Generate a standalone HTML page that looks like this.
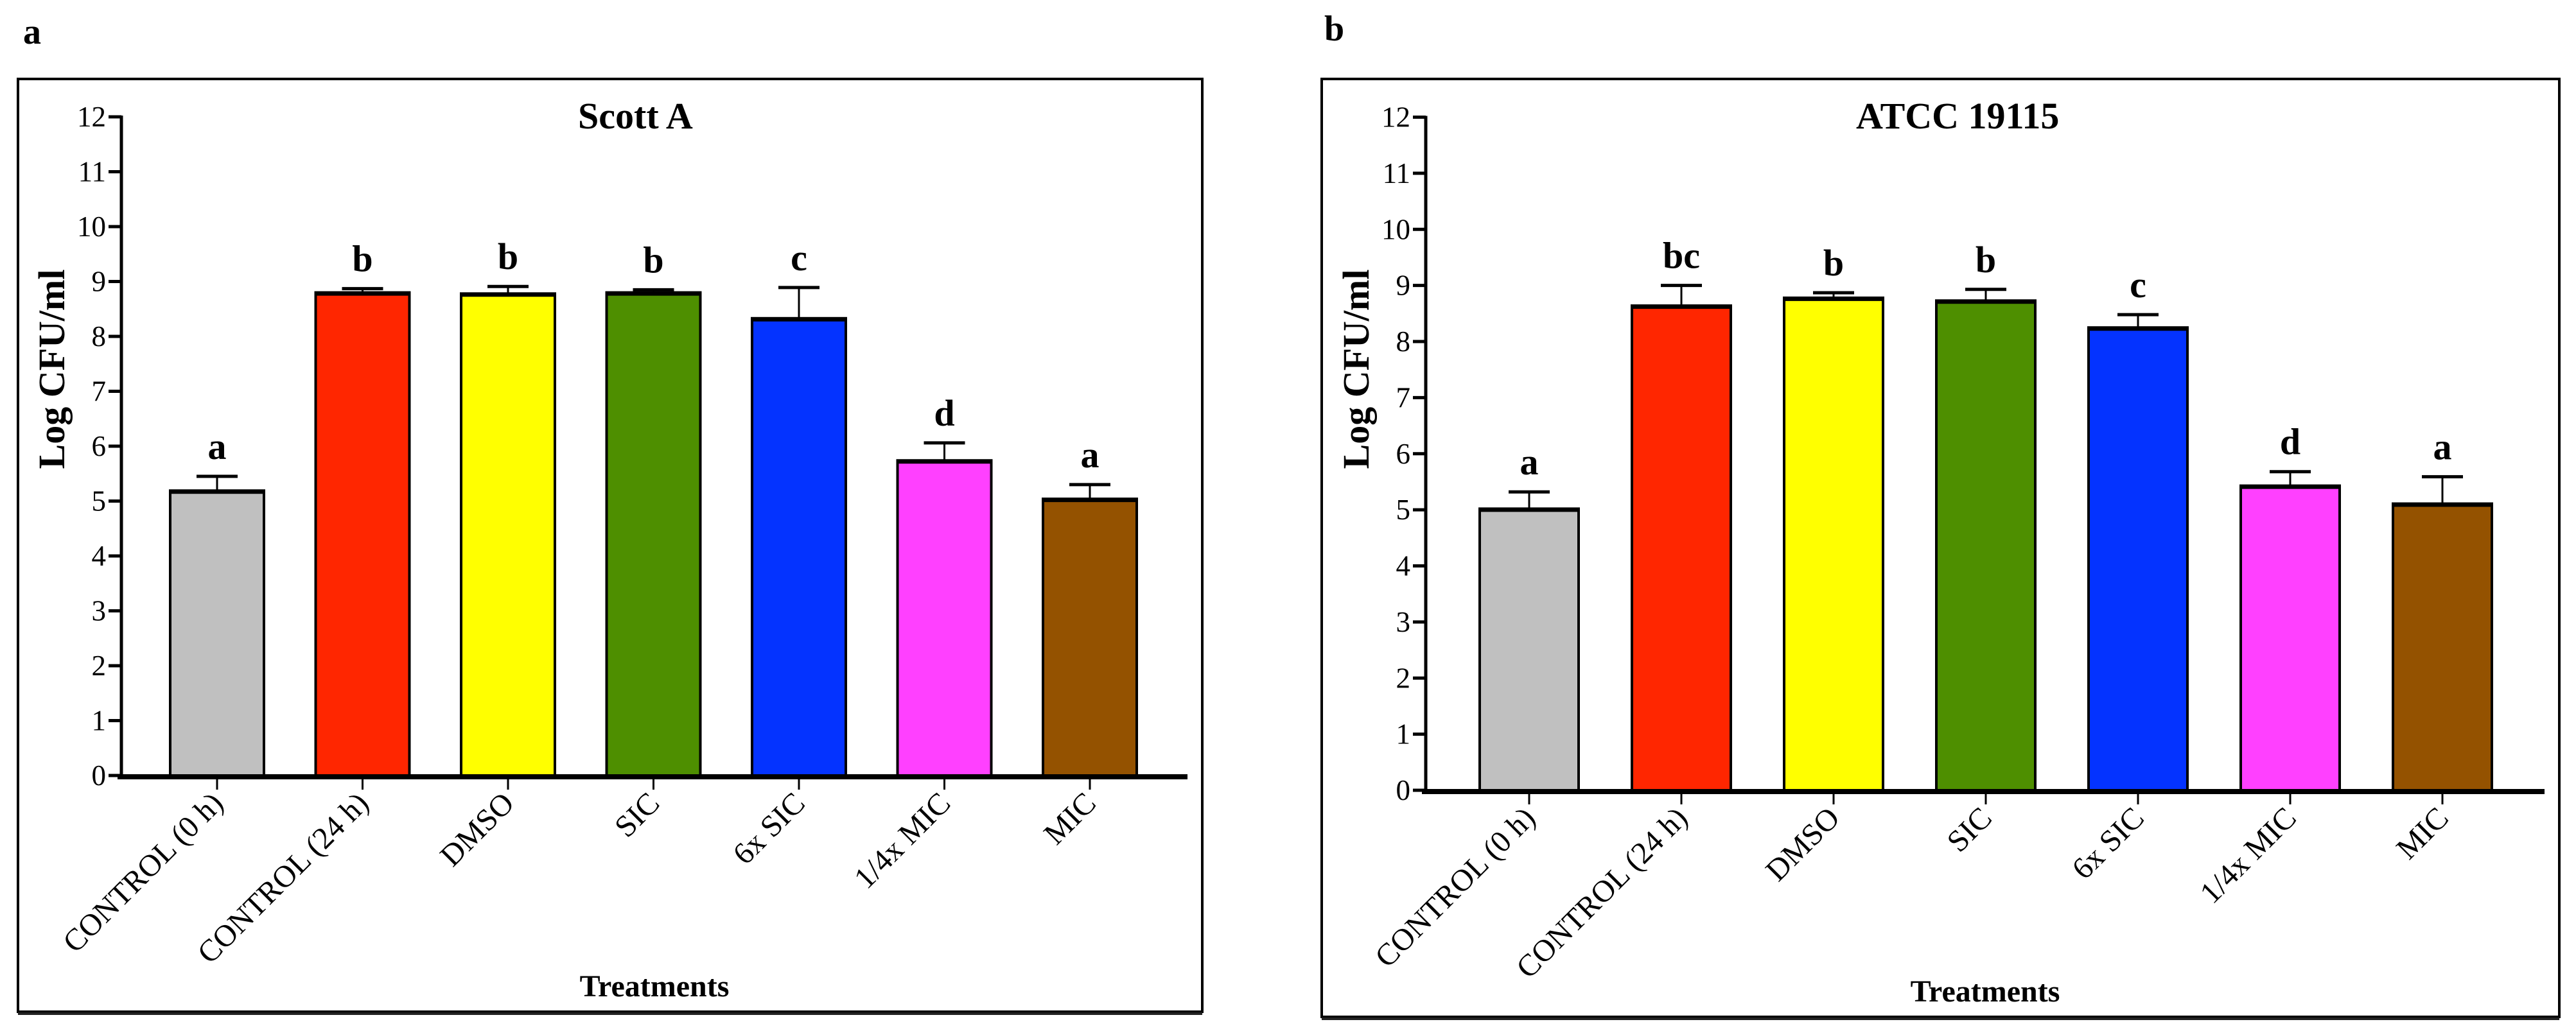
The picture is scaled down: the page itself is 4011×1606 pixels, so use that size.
<!DOCTYPE html>
<html><head><meta charset="utf-8"><style>
html,body{margin:0;padding:0;background:#fff;}
svg{display:block;font-family:"Liberation Serif",serif;}
</style></head><body>
<svg id="fig" width="4011" height="1606" viewBox="0 0 4011 1606" xmlns="http://www.w3.org/2000/svg"></svg>
<script>
const categories = ["CONTROL (0 h)","CONTROL (24 h)","DMSO","SIC","6x SIC","1/4x MIC","MIC"];
const colors = ["#c0c0c0","#ff2600","#ffff00","#4e8f00","#0433ff","#ff40ff","#945200"];
const yTicks = [0,1,2,3,4,5,6,7,8,9,10,11,12];
const scottMeans = [5.19,8.80,8.78,8.80,8.33,5.74,5.04];
const scottErr = [0.26,0.07,0.13,0.05,0.56,0.32,0.26];
const scottLetters = ["a","b","b","b","c","d","a"];
const atccMeans = [5.02,8.64,8.78,8.73,8.25,5.43,5.11];
const atccErr = [0.30,0.36,0.09,0.20,0.23,0.25,0.48];
const atccLetters = ["a","bc","b","b","c","d","a"];

const NS="http://www.w3.org/2000/svg";
const svg=document.getElementById('fig');
function mk(tag,attrs,parent,text){const e=document.createElementNS(NS,tag);for(const k in attrs)e.setAttribute(k,attrs[k]);if(text!==undefined)e.textContent=text;(parent||svg).appendChild(e);return e;}

function panel(cfg){
  const g=mk('g',{});
  
  
  const fr=mk('rect',{x:cfg.fx0,y:123,width:cfg.fx1-cfg.fx0,height:cfg.fy1-123,fill:'none',stroke:'#000','stroke-width':4},g);
  
  
  const sh=mk('line',{x1:cfg.fx0,x2:cfg.fx1,y1:cfg.fy1+3,y2:cfg.fy1+3,stroke:'#222','stroke-width':4},g);
  
  
  const pl=mk('text',{x:cfg.lx,y:cfg.ly,'font-size':56,'font-weight':'bold'},g,cfg.label);
  
  
  const y=v=>cfg.y0-cfg.unit*v;
  const x=i=>cfg.c0+cfg.step*i;
  const t=mk('text',{x:cfg.tx,y:200,'font-size':58,'font-weight':'bold'},g,cfg.title);
  
  
  const ya=mk('line',{x1:cfg.ax,x2:cfg.ax,y1:y(12)-2,y2:cfg.y0+4,stroke:'#000','stroke-width':5},g);
  
  
  yTicks.forEach(v=>{
    const tk=mk('line',{x1:cfg.ax-20,x2:cfg.ax,y1:y(v),y2:y(v),stroke:'#000','stroke-width':5},g);
    
    
    const tl=mk('text',{x:cfg.ax-24,y:y(v)+15,'font-size':45,'text-anchor':'end'},g,String(v));
    
    
  });
  const yt=mk('text',{x:0,y:0,'font-size':58,'font-weight':'bold','text-anchor':'middle',transform:`translate(${cfg.ytx},${cfg.ytc}) rotate(-90)`},g,'Log CFU/ml');
  
  
  cfg.means.forEach((m,i)=>{
    const cx=x(i);
    const top=y(m+cfg.err[i]);
    const el=mk('line',{x1:cx,x2:cx,y1:y(m),y2:top,stroke:'#000','stroke-width':3},g);
    
    
    const cap=mk('line',{x1:cx-32,x2:cx+32,y1:top,y2:top,stroke:'#000','stroke-width':5},g);
    
    
    const b=mk('rect',{x:cx-cfg.bw/2,y:y(m),width:cfg.bw,height:y(0)-y(m),fill:colors[i],stroke:'#000','stroke-width':4},g);
    
    
    const bt=mk('line',{x1:cx-cfg.bw/2,x2:cx+cfg.bw/2,y1:y(m)+2,y2:y(m)+2,stroke:'#000','stroke-width':6},g);
    
    
    const lt=mk('text',{x:cx,y:top-27,'font-size':58,'font-weight':'bold','text-anchor':'middle'},g,cfg.letters[i]);
    
    
    const xt=mk('line',{x1:cx,x2:cx,y1:y(0),y2:y(0)+22,stroke:'#000','stroke-width':3},g);
    
    
    const cl=mk('text',{x:0,y:0,'font-size':48,'text-anchor':'end',transform:`translate(${cx+12},${y(0)+46}) rotate(-45)`},g,categories[i]);
    
    
  });
  const xa=mk('line',{x1:cfg.ax-6,x2:cfg.axr,y1:y(0)+2,y2:y(0)+2,stroke:'#000','stroke-width':8},g);
  
  
  const xtt=mk('text',{x:(cfg.ax+cfg.axr)/2,y:cfg.fy1-24,'font-size':48,'font-weight':'bold','text-anchor':'middle'},g,'Treatments');
  
  
}
panel({name:'panel-a-scott-a',label:'a',lx:36,ly:68,title:'Scott A',tx:900,fx0:28,fx1:1872,fy1:1576,ax:189,axr:1849,y0:1208,unit:85.5,c0:338,step:226.5,bw:146,ytx:100,ytc:575,means:scottMeans,err:scottErr,letters:scottLetters});
panel({name:'panel-b-atcc-19115',label:'b',lx:2062,ly:63,title:'ATCC 19115',tx:2890,fx0:2058,fx1:3985,fy1:1584,ax:2220,axr:3962,y0:1231,unit:87.37,c0:2381,step:237,bw:154,ytx:2131,ytc:575,means:atccMeans,err:atccErr,letters:atccLetters});
</script>
</body></html>
